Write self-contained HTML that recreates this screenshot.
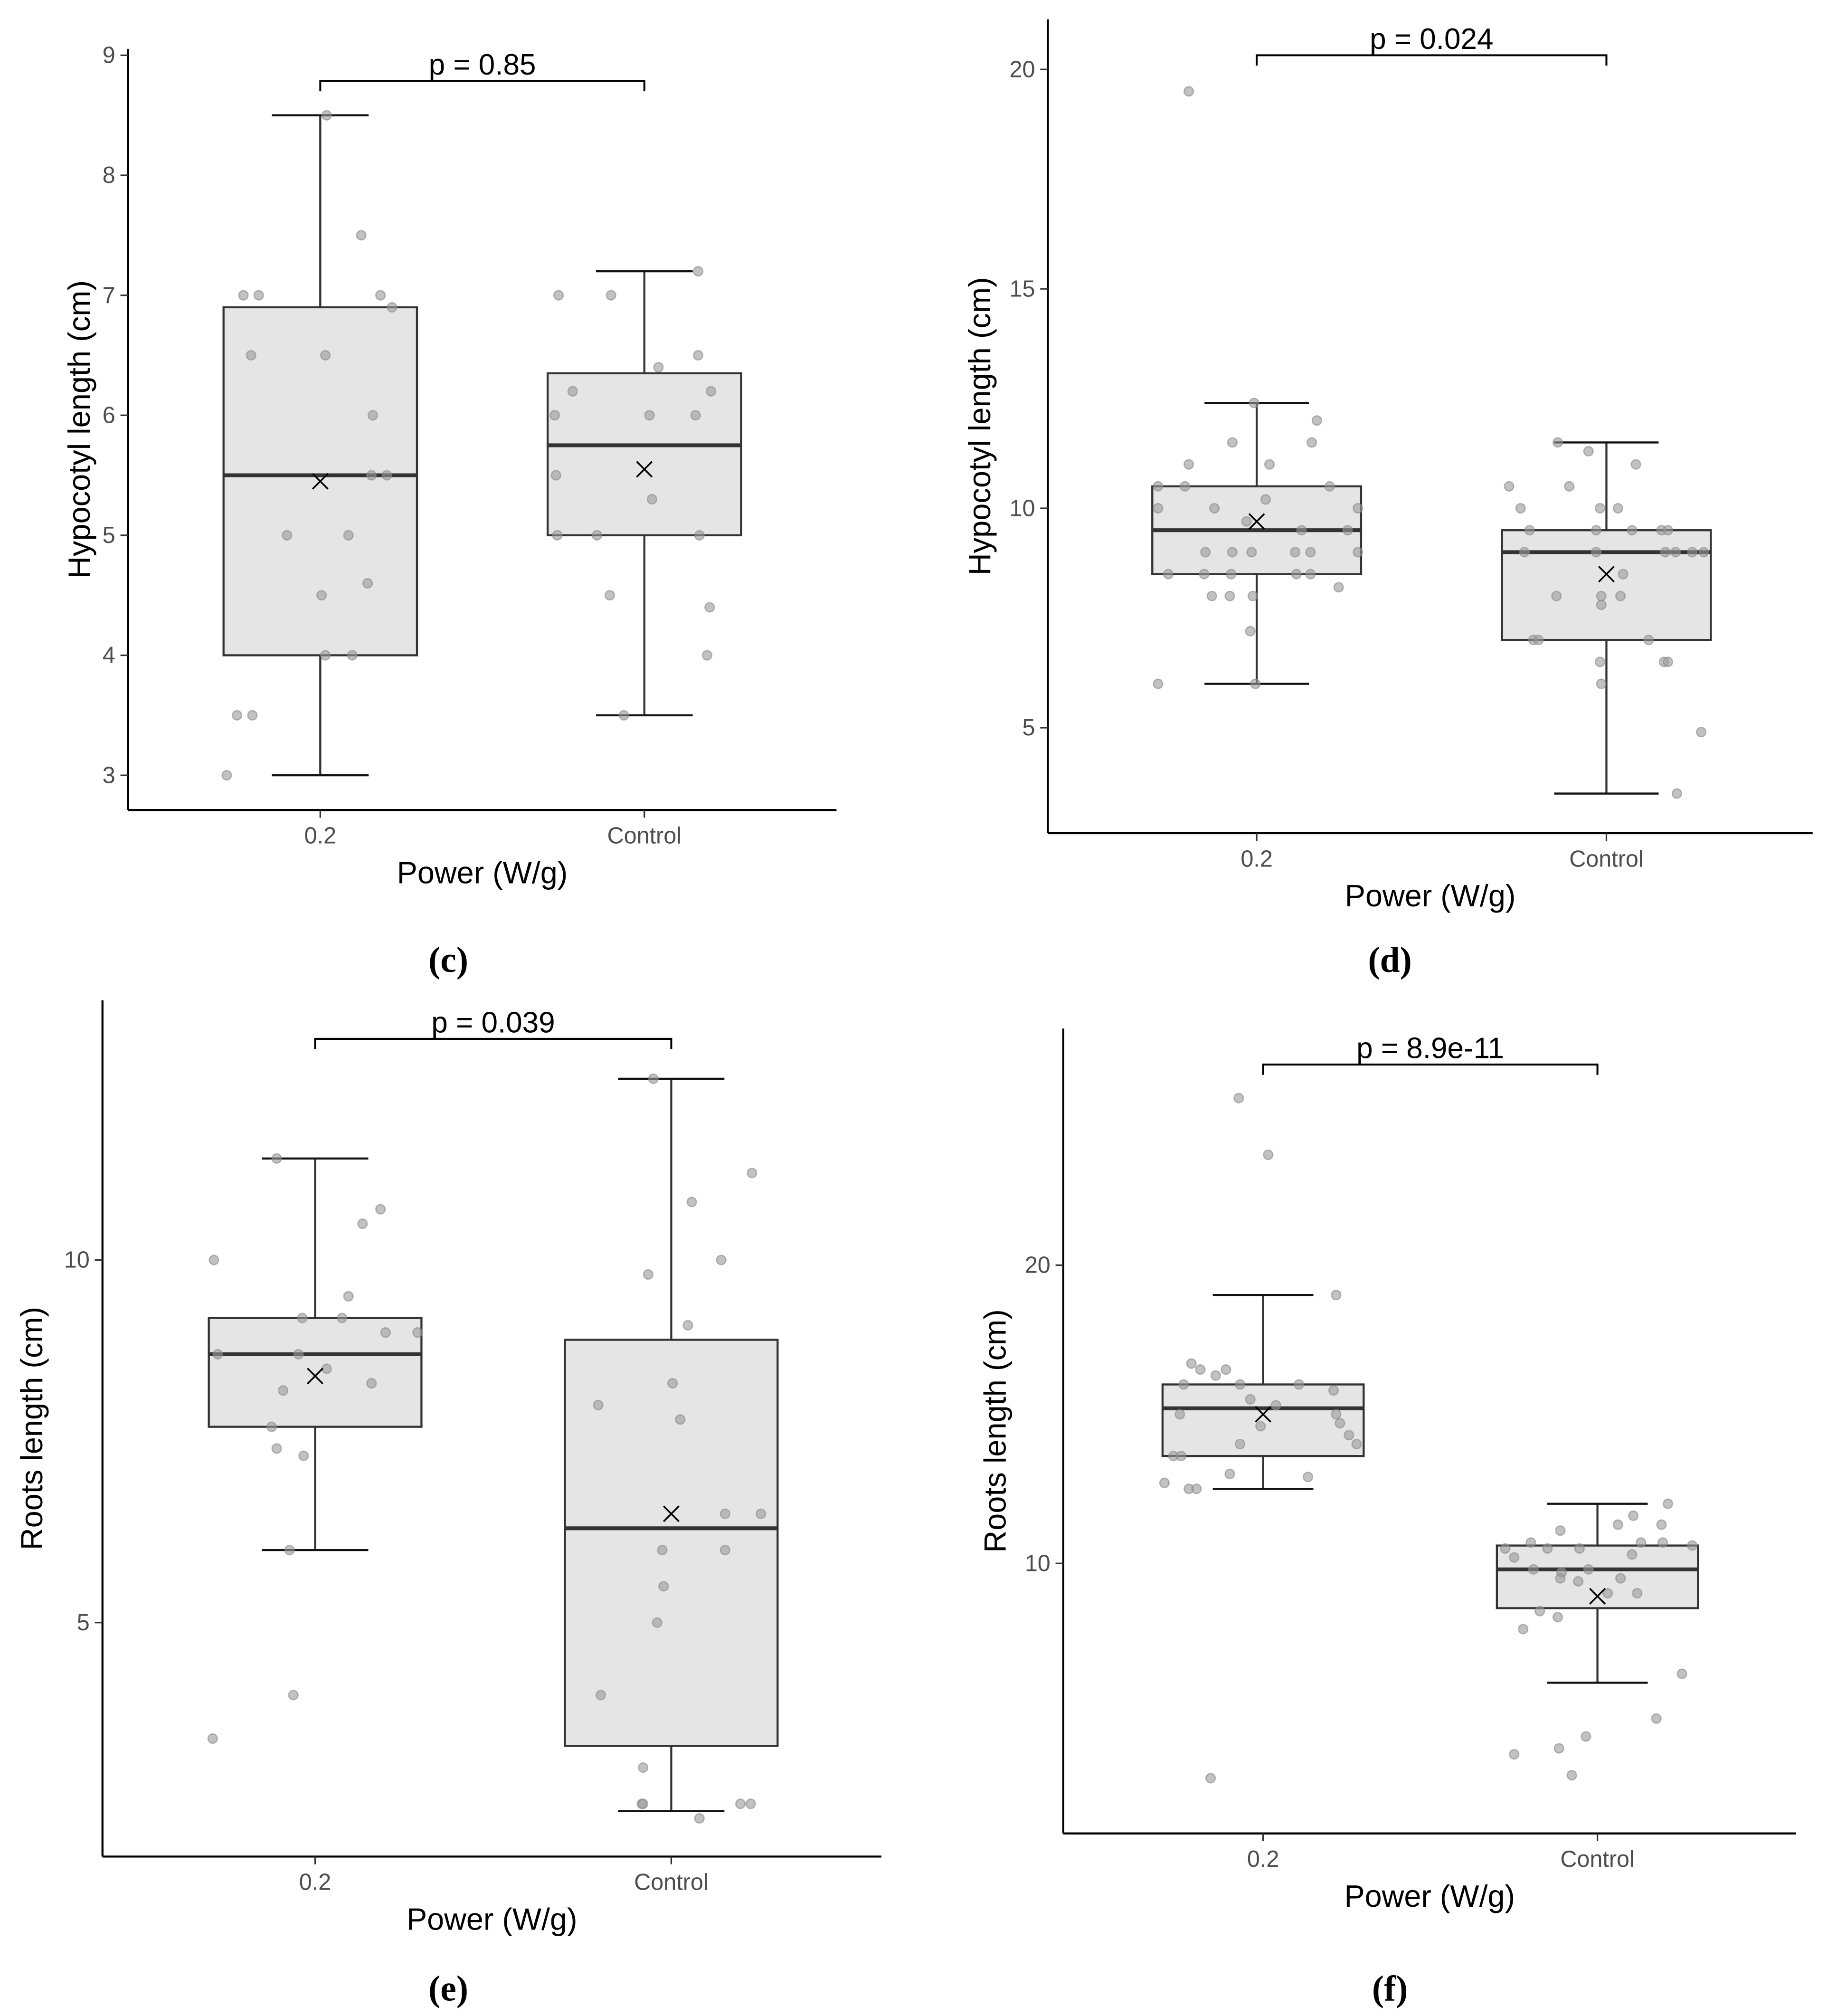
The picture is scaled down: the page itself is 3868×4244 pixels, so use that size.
<!DOCTYPE html>
<html><head><meta charset="utf-8"><style>
html,body{margin:0;padding:0;background:#fff}
svg{display:block}
text{font-family:"Liberation Sans",Arial,sans-serif}
</style></head><body>
<svg id="fig" width="3868" height="4244" viewBox="0 0 1434 1568" preserveAspectRatio="none" xmlns="http://www.w3.org/2000/svg"></svg>
<script>
// ---- Data; jitter = horizontal offset of each point
const categories = ["0.2", "Control"];
// Panel c
const cTicks = [3,4,5,6,7,8,9];
const cStats02 = [3, 4, 5.5, 6.9, 8.5, 5.45];      // min,q1,median,q3,max,mean
const cStatsCt = [3.5, 5, 5.75, 6.35, 7.2, 5.55];
const cPts02 = [[-73,3],[-65,3.5],[-53,3.5],[-60,7],[-48,7],[-54,6.5],[4,6.5],[5,8.5],[32,7.5],[47,7],[56,6.9],[41,6],[40,5.5],[52,5.5],[-26,5],[22,5],[1,4.5],[37,4.6],[4,4],[25,4]];
const cPtsCt = [[-67,7],[-26,7],[42,7.2],[42,6.5],[11,6.4],[-56,6.2],[52,6.2],[-70,6],[4,6],[40,6],[-69,5.5],[6,5.3],[-68,5],[-37,5],[43,5],[-27,4.5],[51,4.4],[49,4],[-16,3.5]];
const cP = "p = 0.85";
// Panel d
const dTicks = [5,10,15,20];
const dStats02 = [6, 8.5, 9.5, 10.5, 12.4, 9.7];
const dStatsCt = [3.5, 7, 9, 9.5, 11.5, 8.5];
const dPts02 = [[-53,19.5],[-2,12.4],[47,12],[-19,11.5],[43,11.5],[-53,11],[10,11],[-77,10.5],[-56,10.5],[57,10.5],[-77,10],[-33,10],[7,10.2],[79,10],[-8,9.7],[35,9.5],[71,9.5],[-40,9],[-19,9],[-4,9],[30,9],[42,9],[79,9],[-69,8.5],[-41,8.5],[-20,8.5],[31,8.5],[42,8.5],[-35,8],[-21,8],[-3,8],[64,8.2],[-5,7.2],[-77,6],[-1,6]];
const dPtsCt = [[-38,11.5],[-14,11.3],[23,11],[-76,10.5],[-29,10.5],[-67,10],[-5,10],[9,10],[-60,9.5],[-8,9.5],[20,9.5],[43,9.5],[48,9.5],[-64,9],[-8,9],[46,9],[54,9],[67,9],[76,9],[13,8.5],[-4,8],[-39,8],[11,8],[-4,7.8],[-57,7],[-53,7],[33,7],[-5,6.5],[45,6.5],[48,6.5],[-4,6],[74,4.9],[55,3.5]];
const dP = "p = 0.024";
// Panel e
const eTicks = [5,10];
const eStats02 = [6, 7.7, 8.7, 9.2, 11.4, 8.4];
const eStatsCt = [2.4, 3.3, 6.3, 8.9, 12.5, 6.5];
const ePts02 = [[-30,11.4],[51,10.7],[37,10.5],[-79,10],[26,9.5],[-10,9.2],[21,9.2],[55,9],[80,9],[-76,8.7],[-13,8.7],[9,8.5],[-25,8.2],[44,8.3],[-34,7.7],[-30,7.4],[-9,7.3],[-20,6],[-17,4],[-80,3.4]];
const ePtsCt = [[-14,12.5],[63,11.2],[16,10.8],[39,10],[-18,9.8],[13,9.1],[-57,8],[1,8.3],[7,7.8],[42,6.5],[70,6.5],[-7,6],[42,6],[-6,5.5],[-11,5],[-55,4],[-22,3],[-23,2.5],[-22,2.5],[54,2.5],[62,2.5],[22,2.3]];
const eP = "p = 0.039";
// Panel f
const fTicks = [10,20];
const fStats02 = [12.5, 13.6, 15.2, 16, 19, 15];
const fStatsCt = [6, 8.5, 9.8, 10.6, 12, 8.9];
const fPts02 = [[-19,25.6],[4,23.7],[57,19],[-56,16.7],[-49,16.5],[-29,16.5],[-37,16.3],[-62,16],[-18,16],[28,16],[55,15.8],[-10,15.5],[10,15.3],[-65,15],[57,15],[60,14.7],[-2,14.6],[67,14.3],[73,14],[-18,14],[-70,13.6],[-64,13.6],[-26,13],[35,12.9],[-77,12.7],[-58,12.5],[-52,12.5],[-41,2.8]];
const fPtsCt = [[55,12],[28,11.6],[16,11.3],[50,11.3],[-29,11.1],[-52,10.7],[-39,10.5],[-14,10.5],[34,10.7],[51,10.7],[74,10.6],[-72,10.5],[-65,10.2],[27,10.3],[-50,9.8],[-28,9.7],[-7,9.8],[-29,9.5],[-15,9.4],[18,9.5],[31,9],[8,9],[-45,8.4],[-31,8.2],[-58,7.8],[66,6.3],[46,4.8],[-9,4.2],[-30,3.8],[-65,3.6],[-20,2.9]];
const fP = "p = 8.9e-11";

const NS = "http://www.w3.org/2000/svg";
const svg = document.getElementById("fig");
function mk(tag, attrs, parent){const e=document.createElementNS(NS,tag);for(const k in attrs)e.setAttribute(k,attrs[k]);(parent||svg).appendChild(e);return e;}

function panel(id, L, ticks, stats, pts, ptxt, ytitle){
  const g = mk("g",{});
  
  
  const y = v => L.y0 + (v - L.v0) * (L.y1 - L.y0) / (L.v1 - L.v0);
  const cx = [L.c1, L.c2];
  const ya = mk("line",{x1:L.ax,y1:L.top,x2:L.ax,y2:L.bot,stroke:"#000","stroke-width":1.6},g);
  
  
  const xa = mk("line",{x1:L.ax,y1:L.bot,x2:L.right,y2:L.bot,stroke:"#000","stroke-width":1.6},g);
  
  
  ticks.forEach(t=>{
    mk("line",{x1:L.ax-6,y1:y(t),x2:L.ax,y2:y(t),stroke:"#333","stroke-width":1.2},g);
    const tx = mk("text",{x:L.ax-10,y:y(t)+6,"text-anchor":"end","font-size":18,fill:"#4d4d4d"},g);
    tx.textContent = t;
    
    
  });
  categories.forEach((c,i)=>{
    mk("line",{x1:cx[i],y1:L.bot,x2:cx[i],y2:L.bot+6,stroke:"#333","stroke-width":1.2},g);
    const tx = mk("text",{x:cx[i],y:L.bot+26,"text-anchor":"middle","font-size":18,fill:"#4d4d4d"},g);
    tx.textContent = c;
    
    
  });
  const xt = mk("text",{x:(L.ax+L.right)/2,y:L.bot+57,"text-anchor":"middle","font-size":24,fill:"#000"},g);
  xt.textContent = "Power (W/g)";
  
  
  const ytx = L.ytx, yty = (L.top+L.bot)/2;
  const yt = mk("text",{x:ytx,y:yty,"text-anchor":"middle","font-size":24,fill:"#000",transform:`rotate(-90 ${ytx} ${yty})`},g);
  yt.textContent = ytitle;
  
  
  stats.forEach((s,i)=>{
    const x = cx[i], hw = L.bw/2;
    const bg = mk("g",{},g);
    
    
    mk("line",{x1:x,y1:y(s[0]),x2:x,y2:y(s[1]),stroke:"#333","stroke-width":1.6},bg);
    mk("line",{x1:x,y1:y(s[3]),x2:x,y2:y(s[4]),stroke:"#333","stroke-width":1.6},bg);
    mk("line",{x1:x-hw/2,y1:y(s[0]),x2:x+hw/2,y2:y(s[0]),stroke:"#111","stroke-width":1.6},bg);
    mk("line",{x1:x-hw/2,y1:y(s[4]),x2:x+hw/2,y2:y(s[4]),stroke:"#111","stroke-width":1.6},bg);
    mk("rect",{x:x-hw,y:y(s[3]),width:L.bw,height:y(s[1])-y(s[3]),fill:"#e5e5e5",stroke:"#333","stroke-width":1.6},bg);
    mk("line",{x1:x-hw,y1:y(s[2]),x2:x+hw,y2:y(s[2]),stroke:"#333","stroke-width":3},bg);
    pts[i].forEach(p=>{
      const c = mk("circle",{cx:x+p[0],cy:y(p[1]),r:3.6,fill:"#999","fill-opacity":0.6,stroke:"#888","stroke-opacity":0.6,"stroke-width":1},bg);
      
      
    });
    const my = y(s[5]);
    const m = mk("path",{d:`M${x-6} ${my-6}L${x+6} ${my+6}M${x-6} ${my+6}L${x+6} ${my-6}`,stroke:"#000","stroke-width":1.3},bg);
    
    
  });
  const br = mk("path",{d:`M${cx[0]} ${L.br+8}V${L.br}H${cx[1]}V${L.br+8}`,fill:"none",stroke:"#000","stroke-width":1.5},g);
  
  
  const pt = mk("text",{x:(cx[0]+cx[1])/2,y:L.br-5,"text-anchor":"middle","font-size":23,fill:"#000"},g);
  pt.textContent = ptxt;
  
  
  const pl = mk("text",{x:L.lab[0],y:L.lab[1],"text-anchor":"middle","font-size":28,"font-weight":"bold",fill:"#000",style:"font-family:'Liberation Serif',serif"},g);
  pl.textContent = L.label;
  
  
}

panel("panel-c",{ax:100,top:38,bot:630,right:653,v0:3,y0:603,v1:9,y1:43,c1:250,c2:503,bw:151,br:63,ytx:70,lab:[350,756],label:"(c)"},cTicks,[cStats02,cStatsCt],[cPts02,cPtsCt],cP,"Hypocotyl length (cm)");
panel("panel-d",{ax:818,top:15,bot:648,right:1415,v0:5,y0:566,v1:20,y1:54,c1:981,c2:1254,bw:163,br:43,ytx:773,lab:[1085,756],label:"(d)"},dTicks,[dStats02,dStatsCt],[dPts02,dPtsCt],dP,"Hypocotyl length (cm)");
panel("panel-e",{ax:80,top:778,bot:1444,right:688,v0:5,y0:1262,v1:10,y1:980,c1:246,c2:524,bw:166,br:808,ytx:33,lab:[350,1556],label:"(e)"},eTicks,[eStats02,eStatsCt],[ePts02,ePtsCt],eP,"Roots length (cm)");
panel("panel-f",{ax:830,top:800,bot:1426,right:1402,v0:10,y0:1216,v1:20,y1:984,c1:986,c2:1247,bw:157,br:828,ytx:785,lab:[1085,1556],label:"(f)"},fTicks,[fStats02,fStatsCt],[fPts02,fPtsCt],fP,"Roots length (cm)");
</script>
</body></html>
